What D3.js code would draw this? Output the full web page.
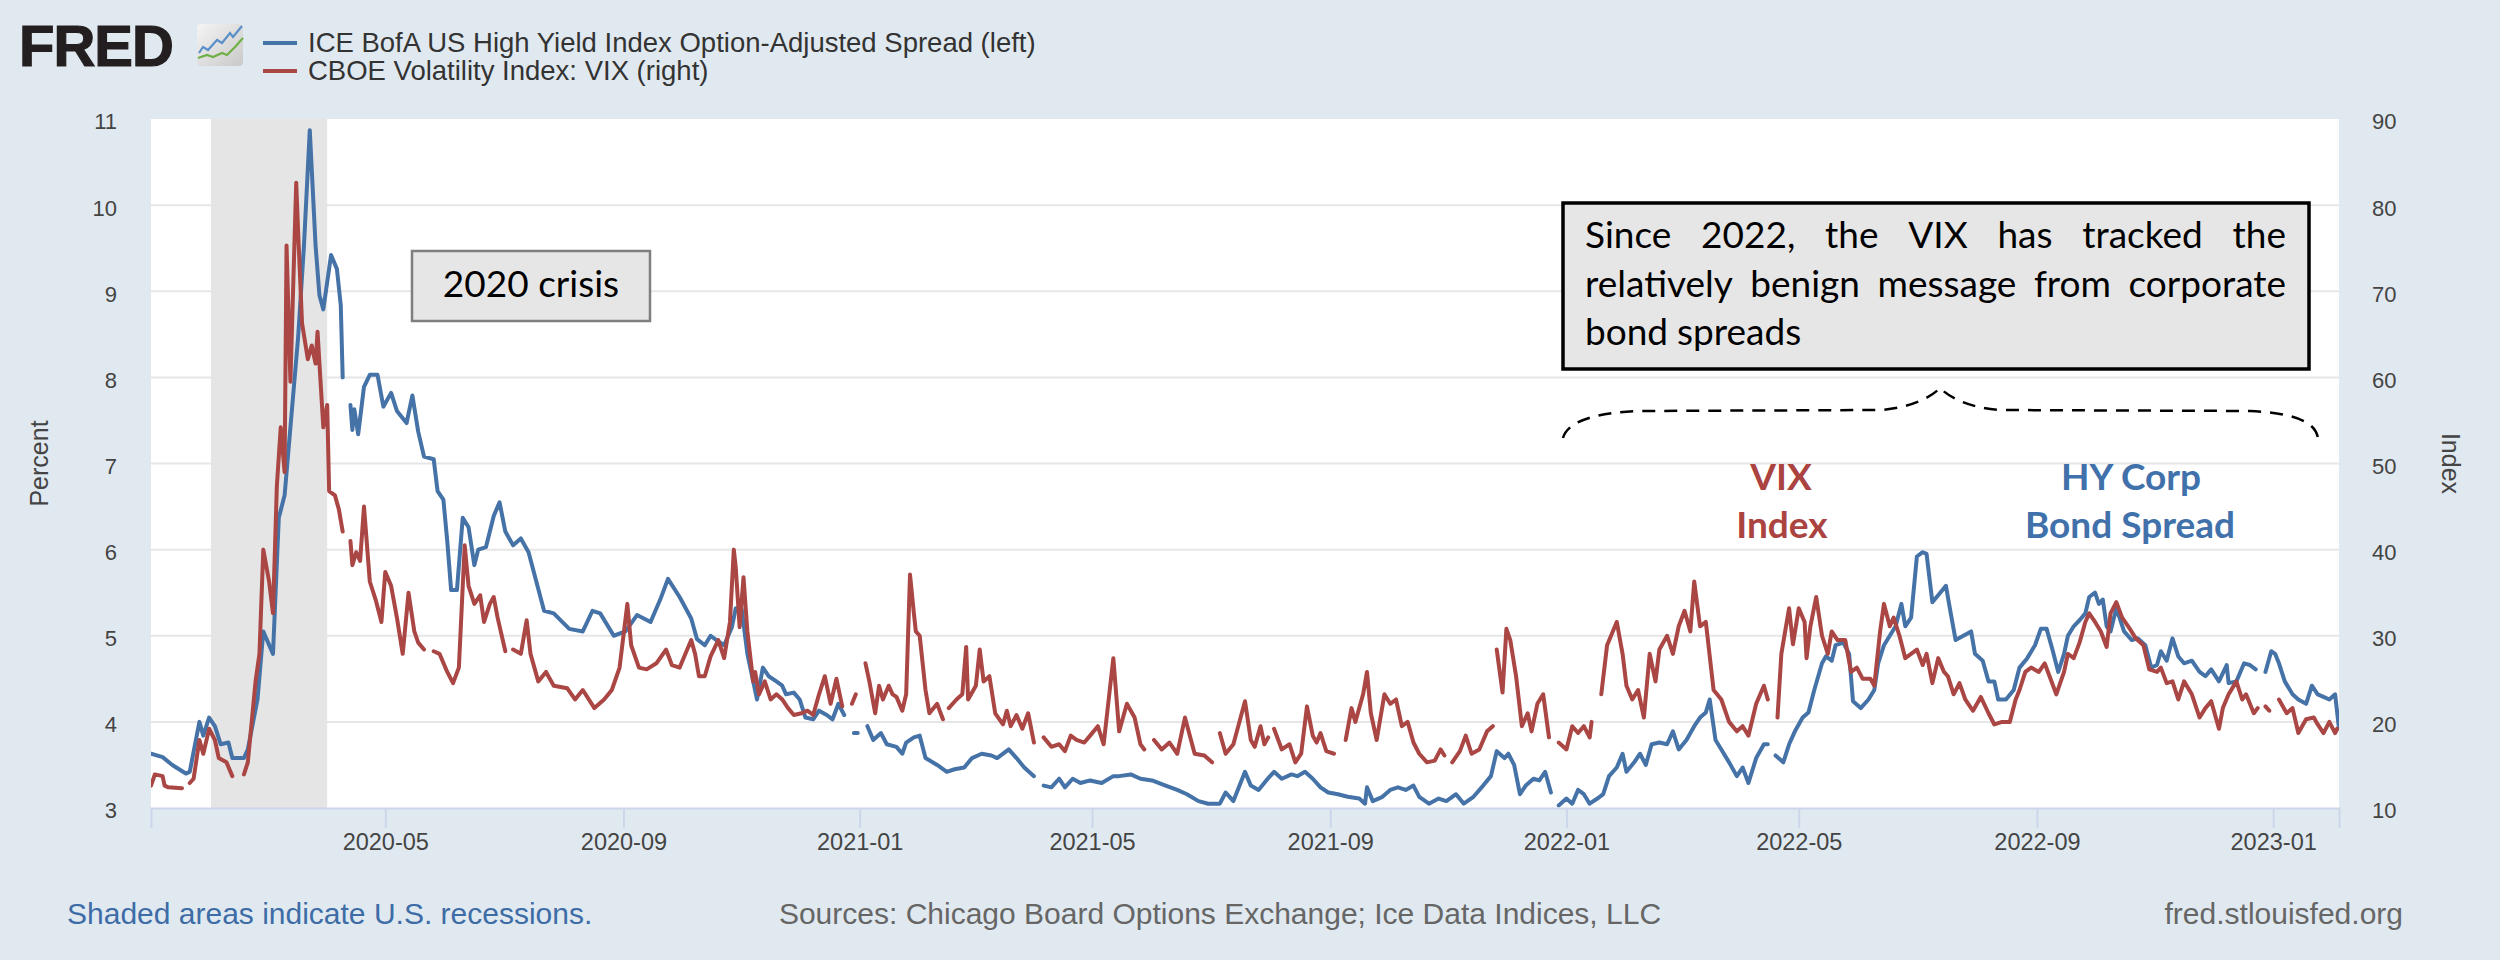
<!DOCTYPE html>
<html>
<head>
<meta charset="utf-8">
<script src="https://cdn.jsdelivr.net/npm/d3@7"></script>
<style>
    body { margin: 0; background: #e1e9f0; }
    svg text { font-family: 'Liberation Sans', Arial, sans-serif; }
    .axis text { fill: #444; }
    .axis .domain, .axis line { stroke: #ccd6eb; stroke-width: 2; }
    .axis.left .domain, .axis.right .domain { display: none; }
    .grid line { stroke: #e6e6e6; stroke-width: 2; }
    .line { fill: none; stroke-width: 4; stroke-linejoin: round; stroke-linecap: round; }
    .line.hy { stroke: #4572a7; }
    .line.vix { stroke: #aa4643; }
    .note text { font-family: Lato, 'Open Sans', sans-serif; font-size: 37px; fill: #000; }
    .callout { font-family: Lato, 'Open Sans', sans-serif !important; font-size: 37px; font-weight: bold; text-anchor: middle; }
</style>
</head>
<body>
<svg id="plate" width="2500" height="960"></svg>
<script>
// ICE BofA US High Yield Index OAS (percent); null = gap in the series
var hySpread = [
    ['2020-01-01', 3.63], ['2020-01-07', 3.59], ['2020-01-12', 3.50], ['2020-01-19', 3.40], ['2020-01-21', 3.42],
    ['2020-01-26', 4.00], ['2020-01-28', 3.84], ['2020-01-31', 4.05], ['2020-02-03', 3.95], ['2020-02-06', 3.74],
    ['2020-02-10', 3.76], ['2020-02-12', 3.58], ['2020-02-18', 3.58], ['2020-02-20', 3.68], ['2020-02-25', 4.26],
    ['2020-02-28', 5.05], ['2020-03-04', 4.79], ['2020-03-07', 6.37], ['2020-03-10', 6.63], ['2020-03-13', 7.42],
    ['2020-03-17', 8.47], ['2020-03-20', 9.53], ['2020-03-23', 10.87], ['2020-03-26', 9.53], ['2020-03-28', 8.95],
    ['2020-03-30', 8.79], ['2020-04-03', 9.42], ['2020-04-06', 9.26], ['2020-04-08', 8.84], ['2020-04-09', 8.00],
    ['2020-04-11', null], ['2020-04-13', 7.68], ['2020-04-14', 7.39], ['2020-04-15', 7.63], ['2020-04-17', 7.34],
    ['2020-04-20', 7.89], ['2020-04-23', 8.03], ['2020-04-27', 8.03], ['2020-04-30', 7.66], ['2020-05-04', 7.82],
    ['2020-05-07', 7.61], ['2020-05-12', 7.47], ['2020-05-15', 7.79], ['2020-05-18', 7.37], ['2020-05-21', 7.08],
    ['2020-05-26', 7.05], ['2020-05-28', 6.68], ['2020-05-31', 6.58], ['2020-06-02', 6.10], ['2020-06-04', 5.53],
    ['2020-06-07', 5.53], ['2020-06-10', 6.37], ['2020-06-13', 6.26], ['2020-06-16', 5.82], ['2020-06-18', 6.00],
    ['2020-06-22', 6.03], ['2020-06-26', 6.39], ['2020-06-29', 6.55], ['2020-07-02', 6.21], ['2020-07-06', 6.05],
    ['2020-07-10', 6.13], ['2020-07-14', 5.97], ['2020-07-18', 5.63], ['2020-07-22', 5.29], ['2020-07-27', 5.26],
    ['2020-08-04', 5.08], ['2020-08-11', 5.05], ['2020-08-16', 5.29], ['2020-08-20', 5.26], ['2020-08-27', 5.00],
    ['2020-09-02', 5.05], ['2020-09-08', 5.24], ['2020-09-15', 5.16], ['2020-09-20', 5.42], ['2020-09-24', 5.66],
    ['2020-09-30', 5.45], ['2020-10-06', 5.20], ['2020-10-09', 4.96], ['2020-10-13', 4.89], ['2020-10-16', 5.00],
    ['2020-10-19', 4.95], ['2020-10-23', 4.89], ['2020-10-27', 5.10], ['2020-10-29', 5.32], ['2020-11-01', 5.32],
    ['2020-11-04', 4.79], ['2020-11-07', 4.47], ['2020-11-09', 4.26], ['2020-11-12', 4.63], ['2020-11-15', 4.53],
    ['2020-11-19', 4.47], ['2020-11-22', 4.42], ['2020-11-24', 4.32], ['2020-11-28', 4.34], ['2020-12-01', 4.26],
    ['2020-12-04', 4.05], ['2020-12-08', 4.03], ['2020-12-11', 4.13], ['2020-12-15', 4.08], ['2020-12-18', 4.03],
    ['2020-12-21', 4.21], ['2020-12-24', 4.08], ['2020-12-27', null], ['2020-12-29', 3.87], ['2020-12-31', 3.87],
    ['2021-01-03', null], ['2021-01-05', 3.95], ['2021-01-08', 3.79], ['2021-01-12', 3.87], ['2021-01-15', 3.74],
    ['2021-01-20', 3.71], ['2021-01-23', 3.63], ['2021-01-25', 3.76], ['2021-01-29', 3.82], ['2021-02-01', 3.84],
    ['2021-02-04', 3.58], ['2021-02-10', 3.50], ['2021-02-15', 3.42], ['2021-02-19', 3.45], ['2021-02-24', 3.47],
    ['2021-02-28', 3.58], ['2021-03-05', 3.63], ['2021-03-10', 3.61], ['2021-03-13', 3.58], ['2021-03-19', 3.68],
    ['2021-03-23', 3.58], ['2021-03-27', 3.47], ['2021-04-01', 3.37], ['2021-04-03', null], ['2021-04-06', 3.26],
    ['2021-04-10', 3.24], ['2021-04-14', 3.34], ['2021-04-17', 3.24], ['2021-04-21', 3.34], ['2021-04-25', 3.29],
    ['2021-04-30', 3.32], ['2021-05-06', 3.29], ['2021-05-12', 3.37], ['2021-05-15', 3.37], ['2021-05-21', 3.39],
    ['2021-05-26', 3.34], ['2021-06-01', 3.32], ['2021-06-08', 3.26], ['2021-06-14', 3.21], ['2021-06-19', 3.16],
    ['2021-06-25', 3.08], ['2021-06-30', 3.05], ['2021-07-06', 3.05], ['2021-07-09', 3.18], ['2021-07-13', 3.08],
    ['2021-07-19', 3.42], ['2021-07-22', 3.26], ['2021-07-26', 3.21], ['2021-07-30', 3.32], ['2021-08-03', 3.42],
    ['2021-08-07', 3.34], ['2021-08-12', 3.39], ['2021-08-15', 3.37], ['2021-08-19', 3.42], ['2021-08-23', 3.34],
    ['2021-08-27', 3.24], ['2021-08-31', 3.18], ['2021-09-05', 3.16], ['2021-09-10', 3.13], ['2021-09-16', 3.11],
    ['2021-09-19', 3.05], ['2021-09-20', 3.24], ['2021-09-23', 3.08], ['2021-09-28', 3.13], ['2021-10-02', 3.21],
    ['2021-10-06', 3.24], ['2021-10-10', 3.21], ['2021-10-14', 3.26], ['2021-10-17', 3.13], ['2021-10-22', 3.05],
    ['2021-10-27', 3.11], ['2021-10-31', 3.08], ['2021-11-05', 3.16], ['2021-11-09', 3.05], ['2021-11-14', 3.13],
    ['2021-11-19', 3.26], ['2021-11-23', 3.37], ['2021-11-26', 3.66], ['2021-11-30', 3.58], ['2021-12-02', 3.63],
    ['2021-12-05', 3.50], ['2021-12-08', 3.16], ['2021-12-11', 3.26], ['2021-12-15', 3.34], ['2021-12-18', 3.32],
    ['2021-12-21', 3.42], ['2021-12-24', 3.18], ['2021-12-26', null], ['2021-12-28', 3.03], ['2022-01-01', 3.11],
    ['2022-01-04', 3.05], ['2022-01-07', 3.21], ['2022-01-10', 3.16], ['2022-01-13', 3.05], ['2022-01-17', 3.11],
    ['2022-01-20', 3.16], ['2022-01-23', 3.37], ['2022-01-27', 3.47], ['2022-01-30', 3.63], ['2022-02-01', 3.42],
    ['2022-02-05', 3.53], ['2022-02-08', 3.63], ['2022-02-11', 3.50], ['2022-02-14', 3.74], ['2022-02-18', 3.76],
    ['2022-02-22', 3.74], ['2022-02-25', 3.89], ['2022-02-28', 3.68], ['2022-03-04', 3.79], ['2022-03-08', 3.95],
    ['2022-03-11', 4.05], ['2022-03-14', 4.11], ['2022-03-16', 4.26], ['2022-03-19', 3.79], ['2022-03-22', 3.68],
    ['2022-03-26', 3.53], ['2022-03-30', 3.37], ['2022-04-02', 3.47], ['2022-04-05', 3.29], ['2022-04-09', 3.58],
    ['2022-04-13', 3.74], ['2022-04-15', 3.74], ['2022-04-17', null], ['2022-04-19', 3.61], ['2022-04-23', 3.53],
    ['2022-04-26', 3.74], ['2022-04-29', 3.89], ['2022-05-03', 4.05], ['2022-05-06', 4.11], ['2022-05-09', 4.37],
    ['2022-05-13', 4.68], ['2022-05-15', 4.76], ['2022-05-18', 4.71], ['2022-05-20', 4.89], ['2022-05-24', 4.92],
    ['2022-05-27', 4.79], ['2022-05-29', 4.24], ['2022-06-02', 4.16], ['2022-06-06', 4.26], ['2022-06-09', 4.37],
    ['2022-06-11', 4.68], ['2022-06-14', 4.89], ['2022-06-17', 5.00], ['2022-06-20', 5.11], ['2022-06-23', 5.37],
    ['2022-06-25', 5.11], ['2022-06-28', 5.21], ['2022-07-01', 5.92], ['2022-07-04', 5.97], ['2022-07-06', 5.95],
    ['2022-07-09', 5.39], ['2022-07-12', 5.47], ['2022-07-16', 5.58], ['2022-07-18', 5.32], ['2022-07-21', 4.95],
    ['2022-07-25', 5.00], ['2022-07-29', 5.05], ['2022-07-31', 4.79], ['2022-08-04', 4.71], ['2022-08-07', 4.47],
    ['2022-08-10', 4.47], ['2022-08-12', 4.26], ['2022-08-16', 4.26], ['2022-08-20', 4.37], ['2022-08-23', 4.63],
    ['2022-08-27', 4.74], ['2022-08-31', 4.89], ['2022-09-03', 5.08], ['2022-09-06', 5.08], ['2022-09-09', 4.84],
    ['2022-09-12', 4.58], ['2022-09-15', 4.79], ['2022-09-17', 5.00], ['2022-09-20', 5.11], ['2022-09-23', 5.18],
    ['2022-09-26', 5.26], ['2022-09-28', 5.45], ['2022-10-01', 5.50], ['2022-10-03', 5.37], ['2022-10-05', 5.42],
    ['2022-10-07', 5.11], ['2022-10-09', 5.05], ['2022-10-12', 5.32], ['2022-10-16', 5.05], ['2022-10-20', 4.95],
    ['2022-10-23', 4.97], ['2022-10-27', 4.89], ['2022-10-30', 4.63], ['2022-11-02', 4.66], ['2022-11-04', 4.82],
    ['2022-11-07', 4.71], ['2022-11-10', 4.97], ['2022-11-13', 4.76], ['2022-11-16', 4.68], ['2022-11-20', 4.71],
    ['2022-11-24', 4.58], ['2022-11-27', 4.53], ['2022-11-30', 4.61], ['2022-12-04', 4.47], ['2022-12-08', 4.66],
    ['2022-12-09', 4.45], ['2022-12-13', 4.47], ['2022-12-17', 4.68], ['2022-12-20', 4.66], ['2022-12-23', 4.61],
    ['2022-12-25', null], ['2022-12-28', 4.58], ['2022-12-31', 4.82], ['2023-01-02', 4.79], ['2023-01-04', 4.68],
    ['2023-01-07', 4.47], ['2023-01-11', 4.32], ['2023-01-14', 4.26], ['2023-01-18', 4.21], ['2023-01-21', 4.42],
    ['2023-01-24', 4.32], ['2023-01-27', 4.29], ['2023-01-30', 4.26], ['2023-02-02', 4.32], ['2023-02-04', 3.92]
];

// CBOE Volatility Index: VIX (index); null = gap in the series
var vixIndex = [
    ['2020-01-01', 12.6], ['2020-01-03', 13.9], ['2020-01-07', 13.7], ['2020-01-08', 12.6], ['2020-01-10', 12.4],
    ['2020-01-17', 12.3], ['2020-01-19', null], ['2020-01-21', 12.9], ['2020-01-23', 13.4], ['2020-01-26', 17.9],
    ['2020-01-28', 16.3], ['2020-01-30', 18.2], ['2020-01-31', 19.2], ['2020-02-03', 17.9], ['2020-02-05', 15.8],
    ['2020-02-09', 15.3], ['2020-02-12', 13.7], ['2020-02-15', null], ['2020-02-18', 13.9], ['2020-02-20', 15.3],
    ['2020-02-24', 24.7], ['2020-02-26', 27.9], ['2020-02-28', 40.0], ['2020-03-02', 36.3], ['2020-03-04', 32.6],
    ['2020-03-06', 47.4], ['2020-03-08', 54.2], ['2020-03-10', 49.0], ['2020-03-11', 75.3], ['2020-03-13', 59.5],
    ['2020-03-16', 82.6], ['2020-03-17', 76.8], ['2020-03-19', 66.3], ['2020-03-22', 62.1], ['2020-03-24', 63.7],
    ['2020-03-26', 61.6], ['2020-03-27', 65.3], ['2020-03-30', 54.2], ['2020-04-01', 56.8], ['2020-04-02', 46.8],
    ['2020-04-05', 46.3], ['2020-04-07', 44.7], ['2020-04-09', 42.1], ['2020-04-11', null], ['2020-04-13', 41.0],
    ['2020-04-14', 38.2], ['2020-04-16', 39.7], ['2020-04-18', 38.7], ['2020-04-20', 45.0], ['2020-04-23', 36.3],
    ['2020-04-26', 34.2], ['2020-04-29', 31.6], ['2020-05-01', 37.4], ['2020-05-04', 35.8], ['2020-05-07', 32.1],
    ['2020-05-10', 27.9], ['2020-05-13', 35.0], ['2020-05-16', 30.5], ['2020-05-18', 29.2], ['2020-05-21', 28.4],
    ['2020-05-24', null], ['2020-05-26', 28.2], ['2020-05-29', 27.9], ['2020-06-02', 25.8], ['2020-06-05', 24.5],
    ['2020-06-08', 26.3], ['2020-06-11', 40.5], ['2020-06-13', 35.8], ['2020-06-16', 33.7], ['2020-06-19', 34.7],
    ['2020-06-21', 31.6], ['2020-06-24', 33.7], ['2020-06-26', 34.5], ['2020-06-28', 32.1], ['2020-07-02', 28.2],
    ['2020-07-04', null], ['2020-07-06', 28.4], ['2020-07-10', 27.9], ['2020-07-13', 31.8], ['2020-07-15', 27.9],
    ['2020-07-19', 24.7], ['2020-07-23', 25.8], ['2020-07-27', 24.2], ['2020-08-03', 23.9], ['2020-08-07', 22.6],
    ['2020-08-11', 23.7], ['2020-08-17', 21.6], ['2020-08-22', 22.6], ['2020-08-26', 23.7], ['2020-08-30', 26.3],
    ['2020-09-03', 33.7], ['2020-09-05', 28.9], ['2020-09-09', 26.3], ['2020-09-13', 26.1], ['2020-09-18', 26.8],
    ['2020-09-23', 28.4], ['2020-09-26', 26.6], ['2020-09-30', 26.3], ['2020-10-03', 27.9], ['2020-10-06', 29.5],
    ['2020-10-08', 27.9], ['2020-10-10', 25.3], ['2020-10-13', 25.3], ['2020-10-16', 27.6], ['2020-10-20', 29.5],
    ['2020-10-23', 27.4], ['2020-10-26', 31.6], ['2020-10-28', 40.0], ['2020-10-29', 37.9], ['2020-10-31', 31.0],
    ['2020-11-02', 36.8], ['2020-11-04', 30.5], ['2020-11-07', 24.7], ['2020-11-08', 25.8], ['2020-11-10', 23.2],
    ['2020-11-13', 24.7], ['2020-11-16', 22.6], ['2020-11-19', 23.2], ['2020-11-22', 22.6], ['2020-11-25', 21.6],
    ['2020-11-28', 20.8], ['2020-12-02', 21.0], ['2020-12-05', 21.3], ['2020-12-08', 20.8], ['2020-12-11', 23.2],
    ['2020-12-14', 25.3], ['2020-12-17', 22.1], ['2020-12-20', 25.0], ['2020-12-23', 21.8], ['2020-12-25', null],
    ['2020-12-28', 22.1], ['2020-12-30', 23.2], ['2021-01-02', null], ['2021-01-04', 26.8], ['2021-01-06', 24.7],
    ['2021-01-09', 21.0], ['2021-01-11', 24.2], ['2021-01-13', 22.6], ['2021-01-16', 24.2], ['2021-01-18', 23.2],
    ['2021-01-20', 22.9], ['2021-01-23', 21.3], ['2021-01-25', 23.2], ['2021-01-27', 37.1], ['2021-01-29', 32.6],
    ['2021-01-30', 30.5], ['2021-02-01', 30.0], ['2021-02-04', 23.7], ['2021-02-06', 21.0], ['2021-02-10', 22.1],
    ['2021-02-13', 20.3], ['2021-02-15', null], ['2021-02-16', 21.6], ['2021-02-20', 22.6], ['2021-02-23', 23.2],
    ['2021-02-25', 28.7], ['2021-02-26', 22.6], ['2021-03-02', 24.2], ['2021-03-04', 28.4], ['2021-03-06', 24.7],
    ['2021-03-09', 25.3], ['2021-03-12', 21.0], ['2021-03-16', 19.7], ['2021-03-18', 21.3], ['2021-03-20', 19.5],
    ['2021-03-23', 20.8], ['2021-03-26', 19.2], ['2021-03-29', 21.0], ['2021-04-01', 17.6], ['2021-04-03', null],
    ['2021-04-06', 18.2], ['2021-04-10', 17.1], ['2021-04-14', 17.4], ['2021-04-17', 16.6], ['2021-04-20', 18.4],
    ['2021-04-23', 17.9], ['2021-04-27', 17.6], ['2021-04-30', 18.4], ['2021-05-04', 19.5], ['2021-05-07', 17.4],
    ['2021-05-12', 27.4], ['2021-05-15', 18.9], ['2021-05-19', 22.1], ['2021-05-23', 20.5], ['2021-05-26', 17.4],
    ['2021-05-28', 16.8], ['2021-05-31', null], ['2021-06-02', 17.9], ['2021-06-06', 16.8], ['2021-06-10', 17.6],
    ['2021-06-14', 16.3], ['2021-06-18', 20.5], ['2021-06-23', 16.3], ['2021-06-28', 16.1], ['2021-07-02', 15.3],
    ['2021-07-04', null], ['2021-07-06', 18.7], ['2021-07-09', 16.3], ['2021-07-13', 17.4], ['2021-07-19', 22.4],
    ['2021-07-22', 17.9], ['2021-07-24', 17.1], ['2021-07-27', 19.5], ['2021-07-29', 17.4], ['2021-07-31', 18.2],
    ['2021-08-02', null], ['2021-08-03', 19.2], ['2021-08-07', 16.8], ['2021-08-11', 17.4], ['2021-08-14', 15.3],
    ['2021-08-17', 16.3], ['2021-08-20', 21.8], ['2021-08-23', 18.4], ['2021-08-25', 17.6], ['2021-08-27', 18.7],
    ['2021-08-30', 16.6], ['2021-09-03', 16.3], ['2021-09-05', null], ['2021-09-09', 17.9], ['2021-09-12', 21.6],
    ['2021-09-14', 20.0], ['2021-09-18', 23.2], ['2021-09-20', 25.8], ['2021-09-22', 21.0], ['2021-09-25', 17.9],
    ['2021-09-29', 23.2], ['2021-10-02', 22.1], ['2021-10-05', 22.6], ['2021-10-08', 19.5], ['2021-10-11', 20.0],
    ['2021-10-14', 17.6], ['2021-10-17', 16.3], ['2021-10-21', 15.3], ['2021-10-25', 15.5], ['2021-10-28', 16.8],
    ['2021-10-30', 16.1], ['2021-11-01', null], ['2021-11-03', 15.3], ['2021-11-07', 16.6], ['2021-11-10', 18.4],
    ['2021-11-13', 16.3], ['2021-11-17', 16.8], ['2021-11-21', 18.9], ['2021-11-24', 19.5], ['2021-11-25', null],
    ['2021-11-26', 28.4], ['2021-11-29', 23.4], ['2021-12-01', 30.8], ['2021-12-03', 29.5], ['2021-12-06', 25.3],
    ['2021-12-09', 19.5], ['2021-12-12', 21.0], ['2021-12-14', 18.9], ['2021-12-17', 22.1], ['2021-12-20', 23.2],
    ['2021-12-23', 18.2], ['2021-12-24', null], ['2021-12-28', 17.6], ['2022-01-01', 16.8], ['2022-01-04', 19.5],
    ['2022-01-07', 18.7], ['2022-01-10', 19.5], ['2022-01-13', 18.2], ['2022-01-14', 20.0], ['2022-01-17', null],
    ['2022-01-19', 23.2], ['2022-01-22', 28.9], ['2022-01-27', 31.6], ['2022-01-30', 27.9], ['2022-02-01', 24.2],
    ['2022-02-04', 22.6], ['2022-02-07', 23.7], ['2022-02-10', 20.5], ['2022-02-13', 27.9], ['2022-02-16', 24.7],
    ['2022-02-18', 28.4], ['2022-02-22', 30.0], ['2022-02-25', 27.9], ['2022-02-28', 31.1], ['2022-03-03', 32.9],
    ['2022-03-06', 30.5], ['2022-03-08', 36.3], ['2022-03-11', 31.1], ['2022-03-14', 31.6], ['2022-03-18', 23.7],
    ['2022-03-22', 22.6], ['2022-03-26', 20.0], ['2022-03-30', 18.9], ['2022-04-02', 19.5], ['2022-04-05', 18.4],
    ['2022-04-09', 22.1], ['2022-04-13', 24.2], ['2022-04-15', 22.6], ['2022-04-17', null], ['2022-04-20', 20.5],
    ['2022-04-22', 27.9], ['2022-04-26', 33.2], ['2022-04-28', 29.0], ['2022-05-01', 33.2], ['2022-05-04', 31.6],
    ['2022-05-05', 27.4], ['2022-05-07', 31.1], ['2022-05-10', 34.5], ['2022-05-13', 30.0], ['2022-05-16', 27.9],
    ['2022-05-18', 30.5], ['2022-05-21', 29.5], ['2022-05-25', 29.5], ['2022-05-28', 25.8], ['2022-05-31', 26.3],
    ['2022-06-03', 25.0], ['2022-06-07', 25.0], ['2022-06-09', 24.2], ['2022-06-12', 30.5], ['2022-06-14', 33.7],
    ['2022-06-17', 31.1], ['2022-06-19', 32.1], ['2022-06-22', 30.0], ['2022-06-25', 27.4], ['2022-06-28', 27.9],
    ['2022-07-01', 28.4], ['2022-07-04', 26.6], ['2022-07-06', 27.9], ['2022-07-09', 24.5], ['2022-07-12', 27.4],
    ['2022-07-15', 25.8], ['2022-07-17', 25.3], ['2022-07-20', 23.2], ['2022-07-23', 24.5], ['2022-07-26', 22.6],
    ['2022-07-29', 21.6], ['2022-07-30', 21.3], ['2022-08-03', 22.9], ['2022-08-07', 21.0], ['2022-08-10', 19.7],
    ['2022-08-14', 20.0], ['2022-08-18', 20.0], ['2022-08-21', 22.6], ['2022-08-23', 23.7], ['2022-08-26', 25.8],
    ['2022-08-29', 26.3], ['2022-09-02', 25.8], ['2022-09-05', 26.8], ['2022-09-08', 25.0], ['2022-09-11', 23.2],
    ['2022-09-15', 25.8], ['2022-09-17', 27.9], ['2022-09-20', 27.4], ['2022-09-23', 29.2], ['2022-09-26', 31.6],
    ['2022-09-28', 32.6], ['2022-10-01', 31.6], ['2022-10-04', 30.5], ['2022-10-07', 28.7], ['2022-10-09', 32.6],
    ['2022-10-12', 33.9], ['2022-10-15', 32.1], ['2022-10-19', 30.8], ['2022-10-22', 29.7], ['2022-10-26', 28.9],
    ['2022-10-29', 26.1], ['2022-11-02', 25.8], ['2022-11-04', 26.3], ['2022-11-07', 24.5], ['2022-11-10', 24.7],
    ['2022-11-13', 22.6], ['2022-11-16', 24.7], ['2022-11-20', 23.2], ['2022-11-24', 20.5], ['2022-11-27', 21.6],
    ['2022-11-30', 22.4], ['2022-12-04', 19.2], ['2022-12-06', 21.6], ['2022-12-09', 23.2], ['2022-12-13', 24.7],
    ['2022-12-16', 22.6], ['2022-12-18', 23.2], ['2022-12-22', 21.0], ['2022-12-24', 21.6], ['2022-12-26', null],
    ['2022-12-28', 21.8], ['2022-12-30', 21.3], ['2023-01-02', null], ['2023-01-04', 22.6], ['2023-01-08', 21.0],
    ['2023-01-11', 21.6], ['2023-01-14', 18.7], ['2023-01-18', 20.3], ['2023-01-22', 20.5], ['2023-01-24', 19.7],
    ['2023-01-27', 18.7], ['2023-01-30', 20.0], ['2023-02-02', 18.7], ['2023-02-03', 19.2]
];

var dateRange = ['2020-01-01', '2023-02-04'];
var recessions = [['2020-02-01', '2020-04-01']];
var xTickLabels = ['2020-05', '2020-09', '2021-01', '2021-05', '2021-09', '2022-01', '2022-05', '2022-09', '2023-01'];
var leftTicks = [3, 4, 5, 6, 7, 8, 9, 10, 11];
var rightTicks = [10, 20, 30, 40, 50, 60, 70, 80, 90];
var legendLabels = ['ICE BofA US High Yield Index Option-Adjusted Spread (left)', 'CBOE Volatility Index: VIX (right)'];
var crisisNote = '2020 crisis';
var boxNote = ['Since 2022, the VIX has tracked the', 'relatively benign message from corporate', 'bond spreads'];

var parseDay = d3.timeParse('%Y-%m-%d');
var parseMonth = d3.timeParse('%Y-%m');

var svg = d3.select('#plate');

// set the dimensions and margins of the graph
var margin = {top: 119, right: 161, bottom: 152, left: 151};
var width = 2500 - margin.left - margin.right;
var height = 960 - margin.top - margin.bottom;

// page background
svg.append('rect').attr('width', 2500).attr('height', 960).attr('fill', '#e1e9f0');

// set the ranges
var x = d3.scaleTime().domain(dateRange.map(parseDay)).range([0, width]);
var y0 = d3.scaleLinear().domain([3, 11]).range([height, 0]);
var y1 = d3.scaleLinear().domain([10, 90]).range([height, 0]);

var plot = svg.append('g')
    .attr('transform', 'translate(' + margin.left + ',' + margin.top + ')');

plot.append('rect').attr('width', width).attr('height', height).attr('fill', '#fff');

plot.append('clipPath').attr('id', 'clip')
    .append('rect').attr('width', width).attr('height', height);

// horizontal grid
plot.append('g').attr('class', 'grid')
    .selectAll('line')
    .data(leftTicks.slice(1, -1))
    .join('line')
    .attr('x1', 0).attr('x2', width)
    .attr('y1', function(d) { return y0(d); })
    .attr('y2', function(d) { return y0(d); });

// recession shading
plot.selectAll('.recession')
    .data(recessions)
    .join('rect')
    .attr('class', 'recession')
    .attr('x', function(d) { return x(parseDay(d[0])); })
    .attr('width', function(d) { return x(parseDay(d[1])) - x(parseDay(d[0])); })
    .attr('y', 0)
    .attr('height', height)
    .attr('fill', '#e5e5e5');

// format the data
var hy = hySpread.map(function(d) { return {date: parseDay(d[0]), value: d[1]}; });
var vix = vixIndex.map(function(d) { return {date: parseDay(d[0]), value: d[1]}; });

var hyLine = d3.line()
    .defined(function(d) { return d.value !== null; })
    .x(function(d) { return x(d.date); })
    .y(function(d) { return y0(d.value); });

var vixLine = d3.line()
    .defined(function(d) { return d.value !== null; })
    .x(function(d) { return x(d.date); })
    .y(function(d) { return y1(d.value); });

var lines = plot.append('g').attr('clip-path', 'url(#clip)');
lines.append('path').datum(hy).attr('class', 'line hy').attr('d', hyLine);
lines.append('path').datum(vix).attr('class', 'line vix').attr('d', vixLine);

// Add the X Axis
plot.append('g')
    .attr('class', 'axis bottom')
    .attr('transform', 'translate(0,' + height + ')')
    .call(d3.axisBottom(x)
        .tickValues(xTickLabels.map(parseMonth))
        .tickFormat(d3.timeFormat('%Y-%m'))
        .tickSize(20)
        .tickPadding(5))
    .selectAll('text')
    .style('font-size', '23.5px');

// Add the Y0 Axis
plot.append('g')
    .attr('class', 'axis left')
    .call(d3.axisLeft(y0).tickValues(leftTicks).tickSize(0).tickPadding(34))
    .selectAll('text')
    .attr('dy', '0.45em')
    .style('font-size', '22px');

// Add the Y1 Axis
plot.append('g')
    .attr('class', 'axis right')
    .attr('transform', 'translate(' + width + ',0)')
    .call(d3.axisRight(y1).tickValues(rightTicks).tickSize(0).tickPadding(33))
    .selectAll('text')
    .attr('dy', '0.45em')
    .style('font-size', '22px');

// axis titles
svg.append('text')
    .attr('transform', 'translate(48,' + (margin.top + height / 2) + ') rotate(-90)')
    .attr('text-anchor', 'middle')
    .style('font-size', '25px').attr('fill', '#444')
    .text('Percent');

svg.append('text')
    .attr('transform', 'translate(2442,' + (margin.top + height / 2) + ') rotate(90)')
    .attr('text-anchor', 'middle')
    .style('font-size', '25px').attr('fill', '#444')
    .text('Index');

// FRED logo
svg.append('text')
    .attr('x', 19).attr('y', 66)
    .style('font-size', '58px').style('font-weight', 'bold')
    .attr('fill', '#231f20').attr('stroke', '#231f20').attr('stroke-width', 1.2)
    .attr('letter-spacing', -1)
    .text('FRED');

var grad = svg.append('defs').append('linearGradient')
    .attr('id', 'iconfill').attr('x1', 0).attr('y1', 0).attr('x2', 1).attr('y2', 1);
grad.append('stop').attr('offset', 0).attr('stop-color', '#f4f4f4');
grad.append('stop').attr('offset', 1).attr('stop-color', '#c9c9c9');

var icon = svg.append('g').attr('transform', 'translate(197,24)');
icon.append('rect').attr('width', 46).attr('height', 42).attr('rx', 4).attr('fill', 'url(#iconfill)');
icon.append('path')
    .attr('d', 'M2,29 L6,23 L11,26 L20,16 L25,19 L33,9 L36,13 L45,2')
    .attr('fill', 'none').attr('stroke', '#5b8fc7').attr('stroke-width', 2.2);
icon.append('path')
    .attr('d', 'M1,34 L10,31 L16,33 L25,29 L30,31 L38,23 L46,14')
    .attr('fill', 'none').attr('stroke', '#6fb046').attr('stroke-width', 2.2);

// legend
var legend = svg.append('g').attr('class', 'legend');
legend.selectAll('line')
    .data(legendLabels)
    .join('line')
    .attr('x1', 263).attr('x2', 297)
    .attr('y1', function(d, i) { return 43 + i * 28; })
    .attr('y2', function(d, i) { return 43 + i * 28; })
    .attr('stroke', function(d, i) { return i === 0 ? '#4572a7' : '#aa4643'; })
    .attr('stroke-width', 4);
legend.selectAll('text')
    .data(legendLabels)
    .join('text')
    .attr('x', 308)
    .attr('y', function(d, i) { return 52 + i * 28; })
    .style('font-size', '27.5px')
    .attr('fill', '#333')
    .text(function(d) { return d; });

// footer
svg.append('text')
    .attr('x', 67).attr('y', 924)
    .style('font-size', '30px').attr('fill', '#3d6ca6')
    .text('Shaded areas indicate U.S. recessions.');
svg.append('text')
    .attr('x', 1220).attr('y', 924).attr('text-anchor', 'middle')
    .style('font-size', '30px').attr('fill', '#666')
    .text('Sources: Chicago Board Options Exchange; Ice Data Indices, LLC');
svg.append('text')
    .attr('x', 2403).attr('y', 924).attr('text-anchor', 'end')
    .style('font-size', '30px').attr('fill', '#666')
    .text('fred.stlouisfed.org');

// "2020 crisis" note
var crisis = svg.append('g').attr('class', 'note');
crisis.append('rect')
    .attr('x', 412).attr('y', 251).attr('width', 238).attr('height', 70)
    .attr('fill', '#e7e6e6').attr('stroke', '#7f7f7f').attr('stroke-width', 2.5);
crisis.append('text')
    .attr('x', 531).attr('y', 297).attr('text-anchor', 'middle')
    .text(crisisNote);

// 2022 note, justified like the original text box
var note = svg.append('g').attr('class', 'note');
note.append('rect')
    .attr('x', 1563).attr('y', 203).attr('width', 746).attr('height', 166)
    .attr('fill', '#e7e6e6').attr('stroke', '#000').attr('stroke-width', 3.5);

var textLeft = 1585, textWidth = 701;
boxNote.forEach(function(line, i) {
    var words = line.split(' ');
    var nodes = words.map(function(w) {
        return note.append('text').attr('y', 248 + i * 48.5).text(w);
    });
    var widths = nodes.map(function(n) { return n.node().getComputedTextLength(); });
    var gap = i < boxNote.length - 1 ? (textWidth - d3.sum(widths)) / (words.length - 1) : 9;
    var cx = textLeft;
    nodes.forEach(function(n, j) {
        n.attr('x', cx);
        cx += widths[j] + gap;
    });
});

// dashed brace under the note
svg.append('path')
    .attr('d', 'M1563,438 C1568,420 1600,412 1640,411 L1880,410 C1910,408 1930,398 1940,388 ' +
        'C1950,398 1970,408 2000,410 L2250,411 C2290,413 2315,420 2318,438')
    .attr('fill', 'none').attr('stroke', '#000').attr('stroke-width', 2.5)
    .attr('stroke-dasharray', '13,9');

// series call-outs
svg.append('text').attr('class', 'callout').attr('x', 1781).attr('y', 490).attr('fill', '#ab4340').text('VIX');
svg.append('text').attr('class', 'callout').attr('x', 1782).attr('y', 538).attr('fill', '#ab4340').text('Index');
svg.append('text').attr('class', 'callout').attr('x', 2131).attr('y', 490).attr('fill', '#4171ab').text('HY Corp');
svg.append('text').attr('class', 'callout').attr('x', 2130).attr('y', 538).attr('fill', '#4171ab').text('Bond Spread');
</script>
</body>
</html>
